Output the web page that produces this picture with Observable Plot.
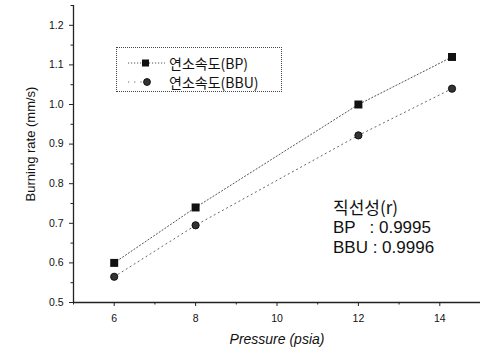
<!DOCTYPE html>
<html><head><meta charset="utf-8">
<script src="https://cdn.jsdelivr.net/npm/d3@7"></script>
<script src="https://cdn.jsdelivr.net/npm/@observablehq/plot@0.6"></script>
<style>
body{margin:0;background:#fff;}
#wrap{position:relative;width:480px;height:351px;font-family:"Liberation Sans",Arial,sans-serif;color:#111;}
#wrap > svg{position:absolute;left:0;top:0;}
.legend{position:absolute;left:116px;top:47px;width:166px;height:45px;border:1px dotted #444;box-sizing:border-box;}
.lrow{position:absolute;left:0;height:16px;display:flex;align-items:center;}
.lrow svg{display:block;}
.lrow span{font-family:"Noto Sans CJK KR","Liberation Sans",sans-serif;font-size:14px;line-height:16px;margin-left:0px;}
.note{position:absolute;left:333px;top:197px;font-size:17px;line-height:20.5px;white-space:pre;}
.note .kr{font-family:"Noto Sans CJK KR",sans-serif;}
</style></head><body><div id="wrap"></div>
<script>
const pressure = [6, 8, 12, 14.3];
const rateBP = [0.60, 0.74, 1.00, 1.12];
const rateBBU = [0.565, 0.695, 0.922, 1.04];
const seriesNames = ["연소속도(BP)", "연소속도(BBU)"];
const linearityTitle = "직선성(r)";
const linearityLines = ["BP   : 0.9995", "BBU : 0.9996"];
const xTicks = [6, 8, 10, 12, 14];
const xMinor = [5, 7, 9, 11, 13, 15];
const yTicks = [0.5, 0.6, 0.7, 0.8, 0.9, 1.0, 1.1, 1.2];
const yMinor = [0.55, 0.65, 0.75, 0.85, 0.95, 1.05, 1.15, 1.25];
const xLabel = "Pressure (psia)";
const yLabel = "Burning rate (mm/s)";

const bp = pressure.map((p, i) => ({p, r: rateBP[i]}));
const bbu = pressure.map((p, i) => ({p, r: rateBBU[i]}));

const chart = Plot.plot({
  width: 480, height: 351,
  marginLeft: 73, marginRight: 0, marginTop: 5, marginBottom: 49,
  style: {fontFamily: "'Liberation Sans', Arial, sans-serif", color: "#111", background: "transparent"},
  x: {domain: [5, 15], axis: null},
  y: {domain: [0.5, 1.25], axis: null},
  marks: [
    Plot.ruleX([5], {stroke: "#222", strokeWidth: 1.3}),
    Plot.ruleY([0.5], {stroke: "#222", strokeWidth: 1.3}),
    Plot.axisY(yTicks, {tickSize: 4, tickPadding: 6, fontSize: 10.5, tickFormat: d => d.toFixed(1), label: null, stroke: "#222"}),
    Plot.axisY(yMinor, {tickSize: 2.5, tickFormat: () => "", label: null, stroke: "#222"}),
    Plot.axisX(xTicks, {tickSize: 4, tickPadding: 8, fontSize: 10.5, label: null, stroke: "#222"}),
    Plot.axisX(xMinor, {tickSize: 2.5, tickFormat: () => "", label: null, stroke: "#222"}),
    Plot.line(bp, {x: "p", y: "r", stroke: "#555", strokeWidth: 1, strokeDasharray: "1.2,2.2"}),
    Plot.line(bbu, {x: "p", y: "r", stroke: "#666", strokeWidth: 1, strokeDasharray: "1.2,3.5"}),
    Plot.dot(bp, {x: "p", y: "r", symbol: "square", r: 4.5, fill: "#111"}),
    Plot.dot(bbu, {x: "p", y: "r", symbol: "circle", r: 3.6, fill: "#333", stroke: "#111", strokeWidth: 1}),
    Plot.text([yLabel], {frameAnchor: "left", textAnchor: "middle", lineAnchor: "middle", rotate: -90, dx: -43, dy: -10, fontSize: 13, fill: "#111"}),
    Plot.text([xLabel], {frameAnchor: "bottom", textAnchor: "middle", lineAnchor: "middle", dy: 37, fontSize: 14, fontStyle: "italic", fill: "#111"})
  ]
});
const wrap = document.getElementById("wrap");
wrap.appendChild(chart);

// legend
const legend = document.createElement("div");
legend.className = "legend";
const sym = [
  `<svg width="52" height="16"><line x1="11" x2="48" y1="8" y2="8" stroke="#555" stroke-dasharray="1.2,1.8"/><rect x="25" y="4.5" width="7" height="7" fill="#111"/></svg>`,
  `<svg width="52" height="16"><line x1="11" x2="30" y1="8" y2="8" stroke="#666" stroke-dasharray="1.2,5"/><circle cx="30" cy="8" r="3.4" fill="#333" stroke="#111"/></svg>`
];
seriesNames.forEach((n, i) => {
  const row = document.createElement("div");
  row.className = "lrow";
  row.style.top = (i === 0 ? 7 : 26) + "px";
  row.innerHTML = sym[i] + `<span>${n}</span>`;
  legend.appendChild(row);
});
wrap.appendChild(legend);

const note = document.createElement("div");
note.className = "note";
note.innerHTML = `<div class="kr">${linearityTitle}</div>` + linearityLines.map(l => `<div>${l}</div>`).join("");
wrap.appendChild(note);
</script></body></html>
